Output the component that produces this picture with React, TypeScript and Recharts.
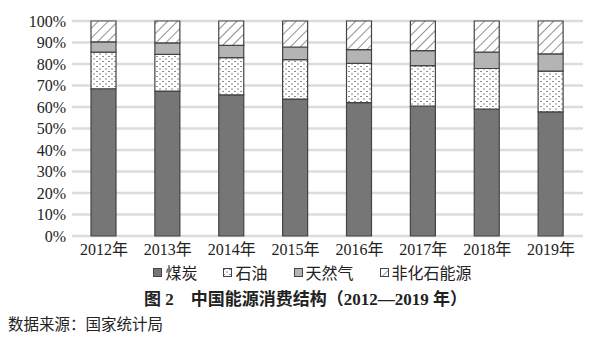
import React from "react"
import { Bar, BarChart, CartesianGrid, Legend, XAxis, YAxis } from "recharts"

const years = ["2012年", "2013年", "2014年", "2015年", "2016年", "2017年", "2018年", "2019年"]
const coal = [68.5, 67.4, 65.6, 63.7, 62.0, 60.4, 59.0, 57.7]
const oil = [17.0, 17.1, 17.4, 18.3, 18.3, 18.8, 18.9, 19.0]
const gas = [4.8, 5.3, 5.7, 5.9, 6.4, 7.0, 7.6, 8.0]
const nonFossil = [9.7, 10.2, 11.3, 12.1, 13.3, 13.8, 14.5, 15.3]
const yTicks = [0, 10, 20, 30, 40, 50, 60, 70, 80, 90, 100]

const data = years.map((year, i) => ({
  year,
  coal: coal[i],
  oil: oil[i],
  gas: gas[i],
  nonFossil: nonFossil[i],
}))

const serif = '"Liberation Serif", "Times New Roman", "Noto Sans CJK SC", serif'

const series = [
  { key: "coal", name: "煤炭", fill: "#767676" },
  { key: "oil", name: "石油", fill: "url(#dots)" },
  { key: "gas", name: "天然气", fill: "#b4b4b4" },
  { key: "nonFossil", name: "非化石能源", fill: "url(#hatch)" },
]

function LegendContent() {
  return (
    <div
      style={{
        display: "flex",
        justifyContent: "center",
        gap: 26,
        fontFamily: serif,
        fontSize: 16,
        color: "#222",
        paddingLeft: 14,
      }}
    >
      {series.map((s) => (
        <span key={s.key} style={{ display: "flex", alignItems: "center" }}>
          <svg width={9} height={9} style={{ marginRight: 3 }}>
            <rect x={0.5} y={0.5} width={8} height={8} fill={s.fill} stroke="#444" strokeWidth={1} />
          </svg>
          {s.name}
        </span>
      ))}
    </div>
  )
}

export default function App() {
  return (
    <div style={{ position: "absolute", left: 0, top: 0, width: 611, height: 361, background: "#fff" }}>
      <BarChart
        width={611}
        height={283}
        data={data}
        margin={{ top: 21, right: 28, left: 0, bottom: 0 }}
        barSize={25}
      >
        <defs>
          <pattern id="dots" width={6} height={5} patternUnits="userSpaceOnUse">
            <rect width={6} height={5} fill="#fff" />
            <rect x={0} y={1} width={2} height={1} fill="#8a8a8a" />
            <rect x={3} y={3.5} width={2} height={1} fill="#8a8a8a" />
          </pattern>
          <pattern id="hatch" width={7} height={7} patternUnits="userSpaceOnUse" patternTransform="rotate(45)">
            <rect width={7} height={7} fill="#fff" />
            <line x1={0} y1={0} x2={0} y2={7} stroke="#555" strokeWidth={1.3} />
          </pattern>
        </defs>
        <CartesianGrid vertical={false} stroke="#dcdcdc" strokeWidth={2.5} />
        <XAxis
          dataKey="year"
          axisLine={false}
          tickLine={false}
          tickSize={0}
          tickMargin={8}
          height={24}
          interval={0}
          tick={{ fontFamily: serif, fontSize: 16, fill: "#222" }}
        />
        <YAxis
          domain={[0, 100]}
          ticks={yTicks}
          interval={0}
          width={72}
          axisLine={false}
          tickLine={false}
          tickSize={0}
          tickMargin={6}
          tickFormatter={(v) => `${v}%`}
          tick={{ fontFamily: serif, fontSize: 16, fill: "#222" }}
        />
        <Legend verticalAlign="bottom" height={23} content={<LegendContent />} wrapperStyle={{ left: 0, width: 611 }} />
        {series.map((s) => (
          <Bar
            key={s.key}
            dataKey={s.key}
            name={s.name}
            stackId="a"
            fill={s.fill}
            stroke="#444"
            strokeWidth={1.2}
            isAnimationActive={false}
          />
        ))}
      </BarChart>
      <div
        style={{
          position: "absolute",
          left: 0,
          width: 611,
          top: 285,
          textAlign: "center",
          fontFamily: serif,
          fontWeight: "bold",
          fontSize: 17,
          color: "#222",
        }}
      >
        图 2　中国能源消费结构（2012—2019 年）
      </div>
      <div
        style={{
          position: "absolute",
          left: 8,
          top: 312,
          fontFamily: serif,
          fontSize: 15.5,
          color: "#222",
        }}
      >
        数据来源：国家统计局
      </div>
    </div>
  )
}
